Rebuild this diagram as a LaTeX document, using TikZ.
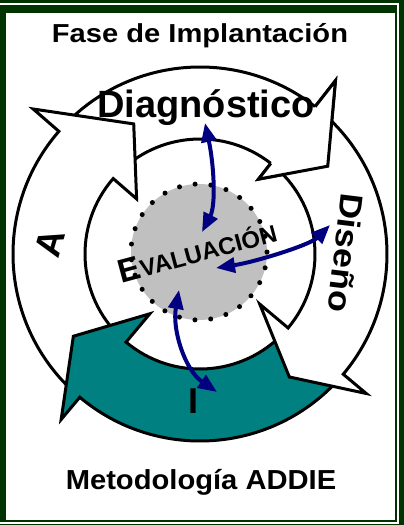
\documentclass[tikz,border=0pt]{standalone}
\usepackage{fontspec}
\setmainfont{Liberation Sans}
\usetikzlibrary{arrows.meta}
\definecolor{framegreen}{RGB}{0,51,0}
\definecolor{tealfill}{RGB}{0,128,128}
\definecolor{evalgray}{RGB}{192,192,192}
\definecolor{navyarrow}{RGB}{0,0,128}
\newcommand\RingOut{187}
\newcommand\RingIn{115}
% #1 tail angle, #2 head angle, #3 tip angle, #4 tip radius, #5 outer wing r, #6 inner wing r, #7 fill
\newcommand\ringarrow[7]{%
  \filldraw[ringline, fill=#7] (#1:\RingOut) arc[start angle=#1, end angle=#2, radius=\RingOut]
    -- (#2:#5) -- (#3:#4) -- (#2:#6) -- (#2:\RingIn)
    arc[start angle=#2, end angle=#1, radius=\RingIn] -- cycle;}
\tikzset{
  ringline/.style={draw=black, line width=3pt, line join=miter},
  txt/.style={inner sep=0pt, font=\bfseries},
  bluearrow/.style={draw=navyarrow, line width=4pt,
    {Triangle[length=19pt,width=15pt]}-{Triangle[length=19pt,width=15pt]}},
  evaldots/.style={circle, fill=evalgray, draw=black, line width=5pt, line cap=round,
    dash pattern=on 0pt off 15.82pt, minimum size=136pt, inner sep=0pt}
}
\begin{document}
\begin{tikzpicture}[x=1pt,y=-1pt]
\useasboundingbox (0,0) rectangle (404,525);
\fill[framegreen] (0,0) rectangle (404,525);
\draw[white, line width=1.5pt] (0,4) -- (398,4) -- (398,523) -- (0,523);
\fill[white] (6,13) rectangle (395,520);

\begin{scope}[shift={(200,254)}, yscale=-1]
  \ringarrow{136}{52}{34.5}{155}{220}{95}{white}
  \ringarrow{227}{139}{117}{146}{221}{84}{white}
  \ringarrow{317}{230}{213}{151}{216}{78}{tealfill}
  \ringarrow{49}{-40}{-54}{152}{217}{78}{white}
  \fill[white] (52:220) -- (34.5:155) -- (52:95) -- cycle;
  \draw[ringline] (52:\RingOut) -- (52:220) -- (34.5:155) -- (52:95) -- (52:\RingIn);
\end{scope}

\node[evaldots] (evalc) at (199,252) {};

\node[txt, anchor=base, rotate=15] (eval) at (200,262)
  {{\fontsize{33}{33}\selectfont E}{\fontsize{24}{24}\selectfont VALUACIÓN}};

\coordinate (t1a) at (202,232);
\coordinate (t1b) at (205,123);
\coordinate (t2a) at (216,268);
\coordinate (t2b) at (330,225);
\coordinate (t3a) at (179,290);
\coordinate (t3b) at (217,392);
\draw[bluearrow] (t1a) .. controls (216,205) and (214,165) .. (t1b);
\draw[bluearrow] (t2a) .. controls (255,262) and (310,245) .. (t2b);
\draw[bluearrow] (t3a) .. controls (172,330) and (185,370) .. (t3b);

\node[txt, anchor=base] (title) at (200,42)
  {\scalebox{1.12}[1]{\fontsize{26}{26}\selectfont Fase de Implantación}};
\node[txt, anchor=base] (diag) at (206,117) {\fontsize{38}{38}\selectfont Diagnóstico};
\node[txt, rotate=-97] (dis) at (346,253) {\scalebox{1.12}[1]{\fontsize{32}{32}\selectfont Diseño}};
\node[txt, rotate=74] (ana) at (50,243) {\fontsize{37}{37}\selectfont A};
\node[txt, anchor=base] (impl) at (193.5,413) {\fontsize{36}{36}\selectfont I};
\node[txt, anchor=base] (meto) at (201,489)
  {\scalebox{1.06}[1]{\fontsize{27.5}{27.5}\selectfont Metodología ADDIE}};
\end{tikzpicture}
\end{document}
